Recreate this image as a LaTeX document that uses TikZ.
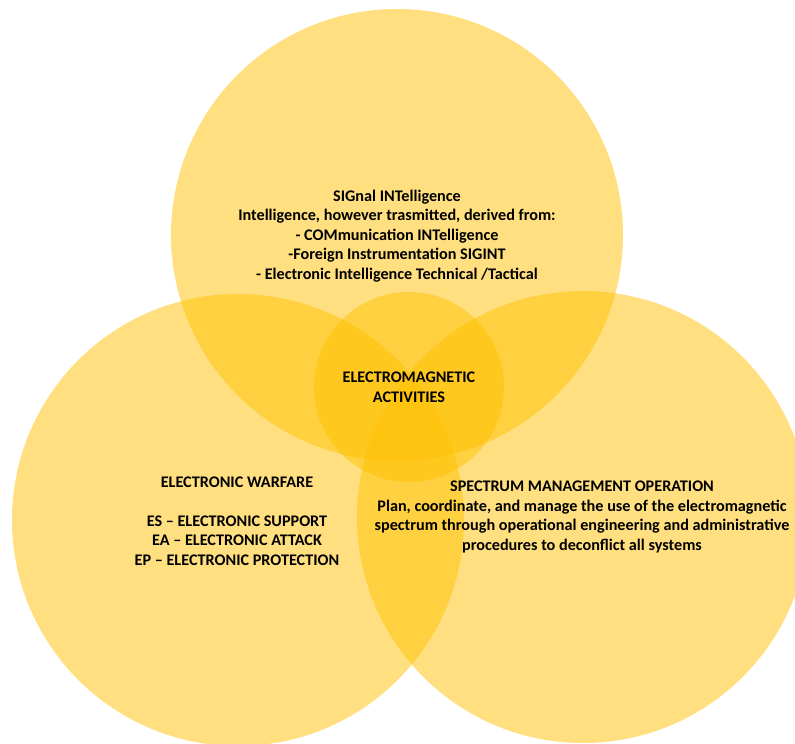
\documentclass[tikz,border=0pt]{standalone}
\usepackage{fontspec}
\setmainfont{Carlito}
\begin{document}
\begin{tikzpicture}[x=1pt,y=-1pt,
  disc/.style={circle,fill=gold,fill opacity=0.5,inner sep=0pt,minimum size=#1},
  label/.style={font=\bfseries\fontsize{16.2}{19.5}\selectfont,align=center,text=black,inner sep=0pt}]
\definecolor{gold}{HTML}{FFC000}
\path[use as bounding box] (0,0) rectangle (795,744);
\begin{scope}
\clip (0,0) rectangle (795,744);
% the three domains and their common core
\node[disc=452pt] (sigint) at (397,235) {};
\node[disc=452pt] (ew) at (238,520) {};
\node[disc=452pt] (smo) at (583,517) {};
\node[disc=190pt] (core) at (409,387) {};
\end{scope}
% texts
\node[label] (sigtext) at (397,236) {SIGnal INTelligence\\
Intelligence, however trasmitted, derived from:\\
- COMmunication INTelligence\\
-Foreign Instrumentation SIGINT\\
- Electronic Intelligence Technical /Tactical};
\node[label] (coretext) at (409,387) {ELECTROMAGNETIC\\ACTIVITIES};
\node[label] (ewtext) at (237,521) {ELECTRONIC WARFARE\\[19.5pt]
ES -- ELECTRONIC SUPPORT\\
EA -- ELECTRONIC ATTACK\\
EP -- ELECTRONIC PROTECTION};
\node[label] (smotext) at (582,517) {SPECTRUM MANAGEMENT OPERATION\\
Plan, coordinate, and manage the use of the electromagnetic\\
spectrum through operational engineering and administrative\\
procedures to deconflict all systems};
\end{tikzpicture}
\end{document}
